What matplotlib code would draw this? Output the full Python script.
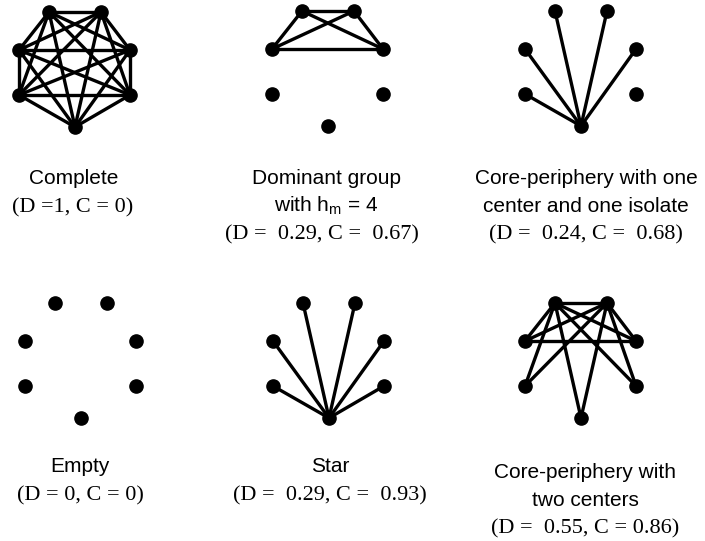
import matplotlib
matplotlib.use("Agg")
import matplotlib.pyplot as plt

plt.rcParams['mathtext.fontset'] = 'custom'
plt.rcParams['mathtext.rm'] = 'Liberation Sans'
plt.rcParams['mathtext.it'] = 'Liberation Sans'

# node layout of the 7-node graph (pixel offsets from top centre)
node_dx = [-26, 26, -56, 55, -56, 55, 0]
node_dy = [0, 0, 38, 38, 83, 83, 115]

# edges for each network (node indices)
edges_complete = [(i, j) for i in range(7) for j in range(i + 1, 7)]
edges_dominant = [(0, 1), (0, 2), (0, 3), (1, 2), (1, 3), (2, 3)]
edges_core_one = [(6, 0), (6, 1), (6, 2), (6, 3), (6, 4)]
edges_empty = []
edges_star = [(6, 0), (6, 1), (6, 2), (6, 3), (6, 4), (6, 5)]
edges_core_two = [(0, 1), (0, 2), (0, 3), (0, 4), (0, 5), (0, 6),
                  (1, 2), (1, 3), (1, 4), (1, 5), (1, 6), (2, 3)]

names = [
    ["Complete"],
    ["Dominant group", r"with h$_{\mathrm{m}}$ = 4"],
    ["Core-periphery with one", "center and one isolate"],
    ["Empty"],
    ["Star"],
    ["Core-periphery with", "two centers"],
]
stats = [
    "(D =1, C = 0)",
    "(D =  0.29, C =  0.67)",
    "(D =  0.24, C =  0.68)",
    "(D = 0, C = 0)",
    "(D =  0.29, C =  0.93)",
    "(D =  0.55, C = 0.86)",
]
all_edges = [edges_complete, edges_dominant, edges_core_one,
             edges_empty, edges_star, edges_core_two]

# panel anchors (top centre of each graph) and label anchors
graph_pos = [(75, 12), (328, 11), (581, 11), (81, 303), (329, 303), (581, 303)]
label_pos = [(74, 179), (326, 179), (586, 179), (80, 467), (330, 467), (585, 473)]
stat_shift = [-1, -4, 0, 0, 0, 0]

fig = plt.figure(figsize=(7.05, 5.41), dpi=100)
ax = fig.add_axes([0, 0, 1, 1])
ax.set_xlim(0, 705)
ax.set_ylim(541, 0)
ax.axis('off')

for (gx, gy), edges in zip(graph_pos, all_edges):
    xs = [gx + d for d in node_dx]
    ys = [gy + d for d in node_dy]
    for i, j in edges:
        ax.plot([xs[i], xs[j]], [ys[i], ys[j]], color='black', lw=2.4,
                solid_capstyle='round', zorder=1)
    ax.plot(xs, ys, 'o', color='black', ms=9.5, zorder=2)

for (lx, ly), lines, st, sh in zip(label_pos, names, stats, stat_shift):
    for k, s in enumerate(lines):
        ax.text(lx, ly + k * 27, s, ha='center', va='center',
                fontsize=15, family='Liberation Sans')
    sy = ly + 27 * (len(lines) - 1) + 29
    ax.text(lx + sh, sy, st, ha='center', va='center',
            fontsize=16, family='Liberation Serif')

fig.savefig('out.png', dpi=100)
